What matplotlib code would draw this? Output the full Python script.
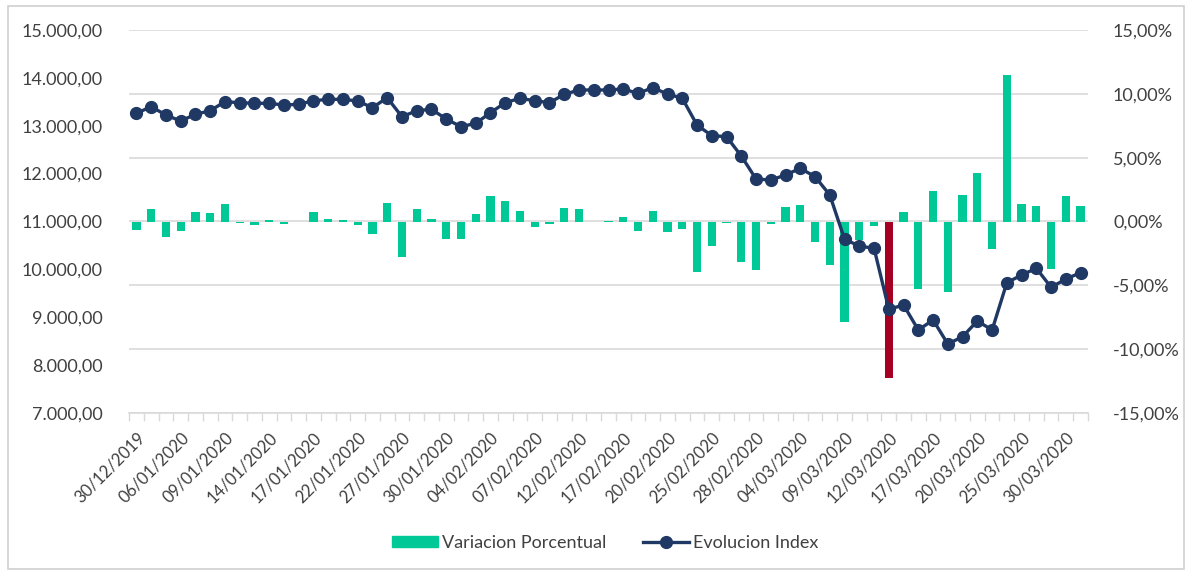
import numpy as np
import matplotlib
matplotlib.use("Agg")
import matplotlib.pyplot as plt
from matplotlib.ticker import FuncFormatter, FixedLocator
from matplotlib.patches import Rectangle

plt.rcParams['font.family'] = ['Lato', 'DejaVu Sans']

# fechas (dias habiles)
fechas = ['30/12/2019', '02/01/2020', '03/01/2020', '06/01/2020', '07/01/2020', '08/01/2020',
          '09/01/2020', '10/01/2020', '13/01/2020', '14/01/2020', '15/01/2020', '16/01/2020',
          '17/01/2020', '20/01/2020', '21/01/2020', '22/01/2020', '23/01/2020', '24/01/2020',
          '27/01/2020', '28/01/2020', '29/01/2020', '30/01/2020', '31/01/2020', '03/02/2020',
          '04/02/2020', '05/02/2020', '06/02/2020', '07/02/2020', '10/02/2020', '11/02/2020',
          '12/02/2020', '13/02/2020', '14/02/2020', '17/02/2020', '18/02/2020', '19/02/2020',
          '20/02/2020', '21/02/2020', '24/02/2020', '25/02/2020', '26/02/2020', '27/02/2020',
          '28/02/2020', '02/03/2020', '03/03/2020', '04/03/2020', '05/03/2020', '06/03/2020',
          '09/03/2020', '10/03/2020', '11/03/2020', '12/03/2020', '13/03/2020', '16/03/2020',
          '17/03/2020', '18/03/2020', '19/03/2020', '20/03/2020', '23/03/2020', '24/03/2020',
          '25/03/2020', '26/03/2020', '27/03/2020', '30/03/2020', '31/03/2020']

# evolucion del indice
indice = [13260, 13398, 13225, 13099, 13239, 13314, 13502, 13482, 13469, 13469, 13433, 13448,
          13523, 13552, 13552, 13517, 13377, 13586, 13189, 13314, 13344, 13141, 12980, 13051,
          13273, 13482, 13573, 13523, 13482, 13656, 13747, 13747, 13747, 13768, 13677, 13795,
          13663, 13573, 13016, 12793, 12772, 12368, 11888, 11867, 11971, 12111,
          11936, 11554, 10628, 10488, 10440, 9166, 9256, 8734, 8943, 8441, 8594, 8922,
          8734, 9722, 9883, 10022, 9625, 9799, 9931]

# variacion porcentual diaria (%)
variacion = [-0.70, 0.99, -1.23, -0.73, 0.78, 0.65, 1.38, -0.13, -0.26, 0.13, -0.20, -0.06,
             0.78, 0.18, 0.13, -0.26, -0.97, 1.44, -2.79, 0.97, 0.18, -1.38, -1.36, 0.55,
             1.96, 1.62, 0.84, -0.42, -0.16, 1.04, 0.99, -0.03, 0.02, 0.39, -0.78, 0.84,
             -0.86, -0.55, -3.99, -1.91, -0.08, -3.16, -3.79, -0.21, 1.17, 1.28,
             -1.57, -3.39, -7.91, -1.45, -0.39, -12.27, 0.78, -5.30, 2.35, -5.56, 2.04, 3.79,
             -2.14, 11.49, 1.38, 1.25, -3.71, 1.96, 1.25]

verde = '#00C896'
rojo = '#A50021'
azul = '#1F3864'
gris = '#404040'

x = np.arange(len(fechas))
var = np.array(variacion) / 100
colores = [rojo if v == var.min() else verde for v in var]

W, H = 1187, 573
fig = plt.figure(figsize=(W / 100, H / 100), dpi=100)
fig.patches.append(Rectangle((8 / W, 4 / H), 1176 / W, 563 / H, transform=fig.transFigure,
                             fill=False, edgecolor='#D0D0D0', linewidth=1.2))

ax = fig.add_axes([129 / W, 1 - 413 / H, 959 / W, 383 / H])

# barras en el eje porcentual (derecha)
ax.bar(x, var, width=0.56, color=colores, zorder=2)
ax.set_ylim(-0.15, 0.15)
ax.set_yticks(np.arange(-0.15, 0.151, 0.05))
ax.yaxis.set_major_formatter(FuncFormatter(lambda v, p: f'{v * 100:.2f}%'.replace('.', ',')))
ax.grid(axis='y', color='#D9D9D9', linewidth=1.2, zorder=0)
ax.set_axisbelow(True)

ax.set_xlim(-0.5, len(fechas) - 0.5)
ax.xaxis.set_major_locator(FixedLocator(x[::3]))
ax.set_xticklabels(fechas[::3], rotation=45, ha='right', rotation_mode='anchor')
ax.xaxis.set_minor_locator(FixedLocator(np.arange(-0.5, len(fechas), 1)))
ax.tick_params(axis='x', which='major', length=0, pad=12, labelsize=12, labelcolor=gris)
ax.tick_params(axis='x', which='minor', length=6, color='#D9D9D9', width=1)

for s in ['top', 'left', 'right']:
    ax.spines[s].set_visible(False)
ax.spines['bottom'].set_color('#D9D9D9')
ax.spines['bottom'].set_linewidth(1.2)

# linea del indice (izquierda)
ax2 = ax.twinx()
ax2.plot(x, indice, color=azul, linewidth=2.4, marker='o', markersize=8.5, zorder=3)
ax2.set_ylim(7000, 15000)
ax2.set_yticks(np.arange(7000, 15001, 1000))
ax2.yaxis.set_major_formatter(FuncFormatter(
    lambda v, p: f'{v:,.2f}'.replace(',', 'X').replace('.', ',').replace('X', '.')))
ax2.yaxis.tick_left()
ax2.tick_params(axis='y', length=0, pad=19, labelsize=13, labelcolor=gris)
for s in ax2.spines.values():
    s.set_visible(False)

# twinx pasa los ticks del eje original a la izquierda, se devuelven a la derecha
ax.yaxis.tick_right()
ax.tick_params(axis='y', length=0, pad=18, labelsize=13, labelcolor=gris)

h1 = plt.Rectangle((0, 0), 1, 1, color=verde)
h2 = plt.Line2D([], [], color=azul, linewidth=2.4, marker='o', markersize=8.5)
fig.legend([h1, h2], ['Variacion Porcentual', 'Evolucion Index'], loc='center',
           bbox_to_anchor=(605 / W, 1 - 543 / H), ncol=2, frameon=False, fontsize=13,
           handlelength=2.6, handleheight=0.6, handletextpad=0.2, columnspacing=2.0,
           labelcolor=gris)

fig.savefig('out.png', dpi=100)
